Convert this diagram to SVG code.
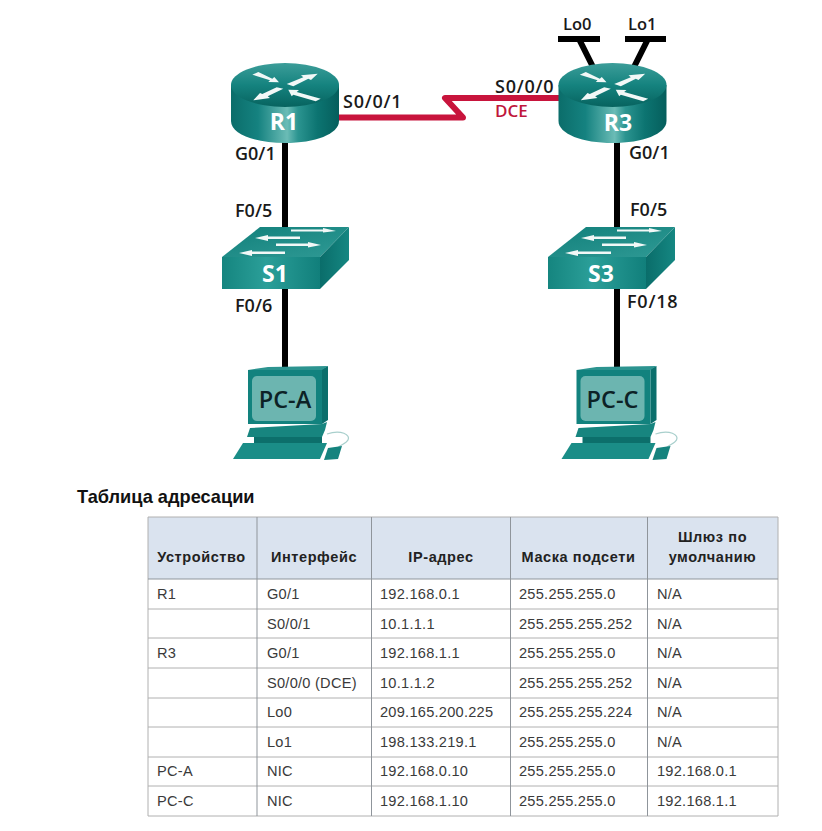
<svg xmlns="http://www.w3.org/2000/svg" width="822" height="831" viewBox="0 0 822 831">
<style>
.lbl{font-family:"Open Sans","Liberation Sans",sans-serif;font-weight:600;font-size:18px;fill:#1a1a1a}
.wide{letter-spacing:.75px}
.lo{font-size:16.5px}
.dce{fill:#c0163c;font-size:17px}
.nm{font-family:"Open Sans","Liberation Sans",sans-serif;font-weight:700;font-size:23px;fill:#fff;text-anchor:middle}
.pc{font-family:"Open Sans","Liberation Sans",sans-serif;font-weight:600;font-size:23.5px;fill:#0c2226;text-anchor:middle}
.blk{stroke:#000;stroke-width:6;fill:none}
.ser{stroke:#c8143c;stroke-width:6;fill:none;stroke-linejoin:round;stroke-linecap:round}
.arw{fill:#f2f8f7}
.th{font-family:"Liberation Sans",Arial,sans-serif;font-weight:700;font-size:14.5px;letter-spacing:.6px;fill:#222;text-anchor:middle}
.td{font-family:"Liberation Sans",Arial,sans-serif;font-size:14.6px;letter-spacing:.25px;fill:#3a3a3a}
.g{stroke:#b0b0b0;stroke-width:1;fill:none}
.gd{stroke:#8f959b;stroke-width:1;fill:none}
</style>
<defs>
<linearGradient id="side" x1="0" x2="1" y1="0" y2="0">
<stop offset="0" stop-color="#0b6d6a"/><stop offset=".25" stop-color="#158280"/><stop offset=".52" stop-color="#6bbcb6"/><stop offset=".62" stop-color="#2b9490"/><stop offset=".8" stop-color="#0c7471"/><stop offset="1" stop-color="#055e5c"/>
</linearGradient>
<linearGradient id="top" x1="0" x2="0" y1="0" y2="1">
<stop offset="0" stop-color="#3c9d99"/><stop offset=".5" stop-color="#15837f"/><stop offset="1" stop-color="#07635f"/>
</linearGradient>
<linearGradient id="swtop" x1="0" x2="1" y1="0" y2="1">
<stop offset="0" stop-color="#12807b"/><stop offset="1" stop-color="#2f9a95"/>
</linearGradient>
<linearGradient id="swside" x1="0" x2="1" y1="0" y2="0">
<stop offset="0" stop-color="#0a6d6a"/><stop offset="1" stop-color="#158782"/>
</linearGradient>
<linearGradient id="swfront" x1="0" x2="1" y1="0" y2="0">
<stop offset="0" stop-color="#15857f"/><stop offset=".45" stop-color="#2b9f99"/><stop offset="1" stop-color="#117f7b"/>
</linearGradient>
<g id="router">
<path d="M-54 0V36C-54 49 -30 58 0 58S54 49 54 36V0Z" fill="url(#side)"/>
<ellipse cx="0" cy="0" rx="54" ry="22" fill="url(#top)"/>
<path class="arw" d="M-32.700 -10.300L-26.700 -13L-12.700 -6.300L-10.700 -8L-6 -2.700L-16.700 -3L-15 -4.700Z"/>
<path class="arw" d="M1.700 -1L18.300 -7.700L16 -9.700L32.700 -11.300L26 -5L23.300 -6.300L8.300 1.300Z"/>
<path class="arw" d="M-1.700 3.700L-17.300 11.300L-15 13L-31.700 15.300L-25 8L-22.700 9L-8.300 2.300Z"/>
<path class="arw" d="M3.300 4.700L14 5L11.700 7L35.700 13.700L30.700 16.300L8.300 9.700L6.700 11.300Z"/>
</g>
<g id="switch">
<path d="M-63 0L-25 -30H64L35 0Z" fill="url(#swtop)"/>
<path d="M35 0L64 -30V3L35 32Z" fill="url(#swside)"/>
<path d="M-63 0H35V32H-63Z" fill="url(#swfront)"/>
<path class="arw" d="M6 -27.500H38V-29L51 -26L38 -24.500V-25.500H6Z"/>
<path class="arw" d="M-30 -19L-17 -22V-20.500H15V-18H-17V-16Z"/>
<path class="arw" d="M-9 -13.500H23V-15L36 -12L23 -9.500V-11H-9Z"/>
<path class="arw" d="M-46 -4L-33 -7V-5.500H0V-3H-33V-1Z"/>
</g>
<g id="pcbody">
<path d="M37 -56L43 -59V-5L37 -1Z" fill="#0b6f6c"/>
<path d="M-37 -55L-17 -58L43 -59L37 -55Z" fill="#2c9490"/>
<rect x="-37" y="-55" width="74" height="54" fill="#12827e"/>
<rect x="-33" y="-49" width="64" height="45" rx="5" fill="#6cb5b0"/>
<path d="M-35 3L37 -1L42 -3L40 5L37 12H-38Z" fill="#17857f"/>
<rect x="-31" y="12" width="68" height="7" fill="#0c6f6b"/>
<path d="M-42 18H42L35 34H-52Z" fill="#1a8d87"/>
<path d="M42 9C56 4 66 10 63 15C61 19 54 20 52 24" stroke="#a8cfcc" stroke-width="1.3" fill="none"/>
<path d="M43 23L57 21L53 34L39 35Z" fill="#15837e"/>
</g>
</defs>

<g id="connectors">
<path class="blk" d="M285 135V230"/>
<path class="blk" d="M285 285V370"/>
<path class="blk" d="M617 135V230"/>
<path class="blk" d="M617 285V370"/>
<path class="blk" d="M579.500 40L594 69"/>
<path class="blk" d="M647.500 40L633 69"/>
<path class="blk" d="M558 39H600"/>
<path class="blk" d="M625 39H666"/>
<path class="ser" d="M330 117.500H463L445 98H570"/>
</g>

<g id="R1"><use href="#router" x="285" y="85"/><text class="nm" x="284" y="130">R1</text></g>
<g id="R3"><use href="#router" x="612.500" y="85"/><text class="nm" x="618" y="131">R3</text></g>
<g id="S1"><use href="#switch" x="285" y="257"/><text class="nm" x="275" y="282">S1</text></g>
<g id="S3"><use href="#switch" x="611" y="257"/><text class="nm" x="601" y="282">S3</text></g>
<g id="PC-A"><use href="#pcbody" x="285" y="425"/><text class="pc" x="285" y="408">PC-A</text></g>
<g id="PC-C"><use href="#pcbody" x="613.500" y="425"/><text class="pc" x="612.500" y="408">PC-C</text></g>

<g id="labels">
<text class="lbl wide" x="343" y="108">S0/0/1</text>
<text class="lbl" x="235" y="160">G0/1</text>
<text class="lbl" x="235" y="217">F0/5</text>
<text class="lbl" x="235" y="312">F0/6</text>
<text class="lbl wide" x="495" y="93">S0/0/0</text>
<text class="lbl dce" x="495" y="117">DCE</text>
<text class="lbl lo" x="563" y="30">Lo0</text>
<text class="lbl lo" x="628" y="30">Lo1</text>
<text class="lbl" x="629" y="159">G0/1</text>
<text class="lbl" x="630" y="216">F0/5</text>
<text class="lbl wide" x="627" y="308">F0/18</text>
</g>

<text x="77" y="503" style="font-family:'Liberation Sans',Arial,sans-serif;font-weight:700;font-size:18.2px;fill:#111">Таблица адресации</text>

<g id="table">
<rect x="148" y="517" width="630" height="62" fill="#dae3ef"/>
<path class="g" d="M148 517H778M148 609H778M148 638H778M148 668H778M148 698H778M148 727H778M148 757H778M148 786H778M148 816H778M148 517V816M778 517V816"/>
<path class="gd" d="M148 579H778M257 517V816M371.500 517V816M510.500 517V816M647.500 517V816"/>
<text class="th" x="201.500" y="562">Устройство</text>
<text class="th" x="314" y="562">Интерфейс</text>
<text class="th" x="441" y="562">IP-адрес</text>
<text class="th" x="578.500" y="562">Маска подсети</text>
<text class="th" x="712.500" y="542">Шлюз по</text>
<text class="th" x="712.500" y="562">умолчанию</text>

<text class="td" x="157" y="599">R1</text><text class="td" x="267" y="599">G0/1</text><text class="td" x="380" y="599">192.168.0.1</text><text class="td" x="519" y="599">255.255.255.0</text><text class="td" x="657" y="599">N/A</text>
<text class="td" x="267" y="629">S0/0/1</text><text class="td" x="380" y="629">10.1.1.1</text><text class="td" x="519" y="629">255.255.255.252</text><text class="td" x="657" y="629">N/A</text>
<text class="td" x="157" y="658">R3</text><text class="td" x="267" y="658">G0/1</text><text class="td" x="380" y="658">192.168.1.1</text><text class="td" x="519" y="658">255.255.255.0</text><text class="td" x="657" y="658">N/A</text>
<text class="td" x="267" y="688">S0/0/0 (DCE)</text><text class="td" x="380" y="688">10.1.1.2</text><text class="td" x="519" y="688">255.255.255.252</text><text class="td" x="657" y="688">N/A</text>
<text class="td" x="267" y="717">Lo0</text><text class="td" x="380" y="717">209.165.200.225</text><text class="td" x="519" y="717">255.255.255.224</text><text class="td" x="657" y="717">N/A</text>
<text class="td" x="267" y="747">Lo1</text><text class="td" x="380" y="747">198.133.219.1</text><text class="td" x="519" y="747">255.255.255.0</text><text class="td" x="657" y="747">N/A</text>
<text class="td" x="157" y="776">PC-A</text><text class="td" x="267" y="776">NIC</text><text class="td" x="380" y="776">192.168.0.10</text><text class="td" x="519" y="776">255.255.255.0</text><text class="td" x="657" y="776">192.168.0.1</text>
<text class="td" x="157" y="806">PC-C</text><text class="td" x="267" y="806">NIC</text><text class="td" x="380" y="806">192.168.1.10</text><text class="td" x="519" y="806">255.255.255.0</text><text class="td" x="657" y="806">192.168.1.1</text>
</g>
</svg>
